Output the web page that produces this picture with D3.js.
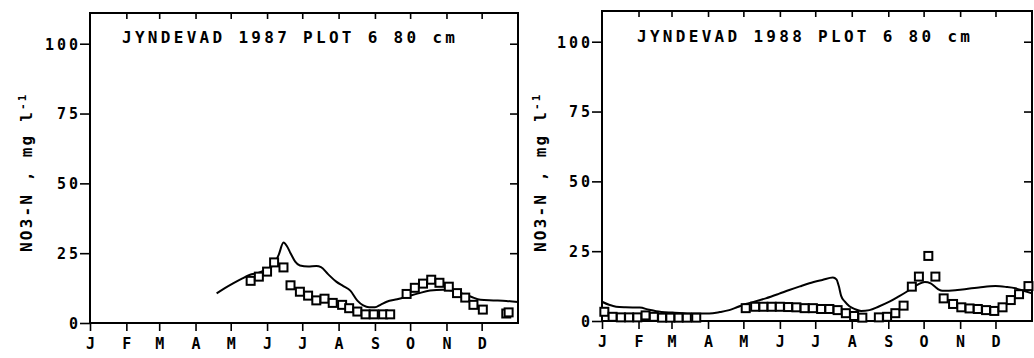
<!DOCTYPE html>
<html>
<head>
<meta charset="utf-8">
<script src="https://cdn.jsdelivr.net/npm/d3@7"></script>
<style>
  html, body { margin: 0; padding: 0; background: #fff; }
  svg { display: block; }
  text { font-family: "DejaVu Sans Mono", monospace; fill: #000; }
</style>
</head>
<body>
<svg id="chart" width="1034" height="358"></svg>
<script>
// ---- data ----
const monthLabels = ["J","F","M","A","M","J","J","A","S","O","N","D"];
const monthStarts = [0,31,59,90,120,151,181,212,243,273,304,334];
const yTickValues = [0,25,50,75,100];

const titles = ["JYNDEVAD 1987 PLOT 6 80 cm", "JYNDEVAD 1988 PLOT 6 80 cm"];

// simulated (line) 1987: day of year
const sim1987Days = [108,115,122,130,136,144,151,157,161,165,168,171,175,179,186,193,197,203,210,216,222,228,233,238,243,248,253,262,270,280,290,301,310,316,325,333,344,355,365];
const sim1987Vals = [10.6,12.5,14.2,16.0,17.2,18.0,19.3,21.0,24.5,28.8,27.5,25.0,22.0,20.6,20.2,20.4,20.0,17.5,14.8,13.2,11.6,8.0,6.3,5.6,5.6,6.6,7.6,8.5,9.4,10.6,11.6,11.9,11.5,10.8,9.4,8.3,8.1,7.9,7.5];

// measured (squares) 1987
const obs1987Days = [137,144,151,157,165,171,179,186,193,200,207,215,221,228,235,242,250,256,270,277,284,291,298,306,313,320,327,335,355,357];
const obs1987Vals = [15.1,16.6,18.4,21.7,19.9,13.5,11.2,9.8,8.1,8.7,7.2,6.5,5.3,4.1,3.1,3.1,3.1,3.1,10.4,12.6,14.1,15.5,14.4,13.0,10.7,9.1,6.5,4.8,3.4,3.8];

// simulated (line) 1988
const sim1988Days = [0,6,12,20,32,40,46,60,75,91,100,108,115,122,130,139,150,159,168,176,187,196,199,201,203,206,210,215,220,227,235,244,252,261,268,274,279,283,286,289,300,306,320,334,343,351,358,365];
const sim1988Vals = [6.9,5.8,5.1,4.9,4.8,4.0,3.5,3.0,2.7,2.7,3.2,3.9,5.0,6.1,7.0,8.1,9.7,11.1,12.4,13.5,14.7,15.6,14.9,12.5,9.0,7.0,5.3,4.2,3.6,3.9,5.2,6.9,8.8,11.1,13.0,14.0,13.5,12.2,11.2,10.8,11.0,11.3,12.0,12.5,12.2,11.7,10.8,9.9];

// measured (squares) 1988
const obs1988Days = [2,9,16,23,30,37,44,51,58,65,72,80,122,130,137,144,151,158,165,172,179,186,193,200,207,214,221,235,242,249,256,263,269,277,283,290,298,305,312,319,326,333,340,347,354,362];
const obs1988Vals = [3.3,1.5,1.3,1.3,1.3,2.0,1.5,1.2,1.2,1.2,1.2,1.2,4.6,5.1,5.1,5.1,5.1,5.0,4.9,4.6,4.6,4.3,4.3,3.9,2.8,1.8,1.2,1.3,1.5,2.8,5.5,12.3,15.9,23.3,15.9,8.1,6.1,4.9,4.5,4.3,3.9,3.6,4.9,7.5,9.6,12.5];

// ---- drawing ----
const svg = d3.select("#chart");

const panels = [
  {x0: 90, x1: 518, yBottom: 323, yTop: 13, title: titles[0], titleX: 122, titleY: 43,
   labelX: 32, simD: sim1987Days, simV: sim1987Vals, obsD: obs1987Days, obsV: obs1987Vals},
  {x0: 602, x1: 1032, yBottom: 321, yTop: 11, title: titles[1], titleX: 637, titleY: 42,
   labelX: 546, simD: sim1988Days, simV: sim1988Vals, obsD: obs1988Days, obsV: obs1988Vals}
];

panels.forEach(p => {
  const x = d3.scaleLinear().domain([0, 365]).range([p.x0, p.x1]);
  const y = d3.scaleLinear().domain([0, 111]).range([p.yBottom, p.yTop]);
  const g = svg.append("g");

  // frame
  g.append("path")
    .attr("d", `M${p.x0},${p.yBottom}V${p.yTop}H${p.x1}V${p.yBottom}H${p.x0}`)
    .attr("fill", "none").attr("stroke", "#000").attr("stroke-width", 2);

  // left axis (outward ticks, labels)
  const ax = g.append("g").attr("transform", `translate(${p.x0},0)`)
    .call(d3.axisLeft(y).tickValues(yTickValues).tickSize(10).tickPadding(2).tickFormat(d3.format("d")));
  ax.select(".domain").remove();
  ax.selectAll("line").attr("stroke", "#000").attr("stroke-width", 1.6);
  ax.selectAll("text").style("font-size", "15px").style("letter-spacing", "3px")
    .attr("dx", "3px").attr("dy", "0.36em").style("font-family", "DejaVu Sans Mono").style("font-weight", "bold");

  // right axis (inward ticks)
  const axr = g.append("g").attr("transform", `translate(${p.x1},0)`)
    .call(d3.axisLeft(y).tickValues([25,50,75,100]).tickSize(8).tickFormat(""));
  axr.select(".domain").remove();
  axr.selectAll("line").attr("stroke", "#000").attr("stroke-width", 1.6);

  // top axis (inward ticks)
  const axt = g.append("g").attr("transform", `translate(0,${p.yTop})`)
    .call(d3.axisBottom(x).tickValues(monthStarts.slice(1)).tickSize(6).tickFormat(""));
  axt.select(".domain").remove();
  axt.selectAll("line").attr("stroke", "#000").attr("stroke-width", 1.6);

  // bottom axis (month ticks + labels)
  const axb = g.append("g").attr("transform", `translate(0,${p.yBottom})`)
    .call(d3.axisBottom(x).tickValues(monthStarts).tickSize(8).tickPadding(7)
      .tickFormat((d, i) => monthLabels[i]));
  axb.select(".domain").remove();
  axb.selectAll("line").attr("stroke", "#000").attr("stroke-width", 1.6);
  axb.selectAll("text").style("font-size", "15px").style("font-weight", "bold")
    .style("font-family", "DejaVu Sans Mono");

  // title
  g.append("text").attr("x", p.titleX).attr("y", p.titleY)
    .style("font-size", "16px").style("letter-spacing", "3.3px").style("font-weight", "bold")
    .text(p.title);

  // y label
  const yl = g.append("text")
    .attr("transform", `translate(${p.labelX},252) rotate(-90)`)
    .style("font-size", "16px").style("font-weight", "bold").style("letter-spacing", "2.2px");
  yl.append("tspan").text("NO3-N , mg l");
  yl.append("tspan").attr("dy", "-0.55em").style("font-size", "11px").text("-1");

  // simulated line
  const simData = p.simD.map((d, i) => [d, p.simV[i]]);
  g.append("path").datum(simData)
    .attr("d", d3.line().x(d => x(d[0])).y(d => y(d[1])).curve(d3.curveMonotoneX))
    .attr("fill", "none").attr("stroke", "#000").attr("stroke-width", 2);

  // observed squares
  const obsData = p.obsD.map((d, i) => [d, p.obsV[i]]);
  const s = 8;
  g.selectAll("rect.obs").data(obsData).enter().append("rect")
    .attr("class", "obs")
    .attr("x", d => x(d[0]) - s / 2).attr("y", d => y(d[1]) - s / 2)
    .attr("width", s).attr("height", s)
    .attr("fill", "#fff").attr("stroke", "#000").attr("stroke-width", 2);
});
</script>
</body>
</html>
